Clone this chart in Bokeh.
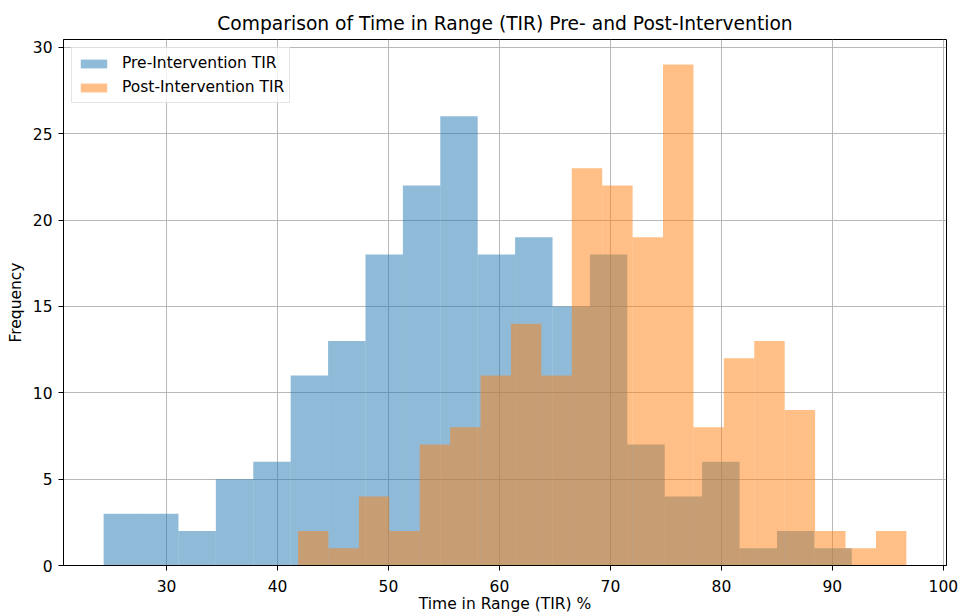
import numpy as np
from bokeh.plotting import figure
from bokeh.models import ColumnDataSource, Range1d, FixedTicker, Legend, LegendItem
from bokeh.embed import file_html
from bokeh.resources import INLINE

# ---- data ----
pre_counts = [3, 3, 2, 5, 6, 11, 13, 18, 22, 26, 18, 19, 15, 18, 7, 4, 6, 1, 2, 1]
post_counts = [2, 1, 4, 2, 7, 8, 11, 14, 11, 23, 22, 19, 29, 8, 12, 13, 9, 2, 1, 2]
pre_range = [24.33, 91.75]   # min / max of the pre-intervention TIR values
post_range = [41.85, 96.67]  # min / max of the post-intervention TIR values
x_ticks = [30, 40, 50, 60, 70, 80, 90, 100]
y_ticks = [0, 5, 10, 15, 20, 25, 30]
series_labels = ["Pre-Intervention TIR", "Post-Intervention TIR"]

FONT = "DejaVu Sans"
FS = "15.5px"


def hist_source(counts, rng):
    edges = np.linspace(rng[0], rng[1], len(counts) + 1)
    return ColumnDataSource(dict(left=edges[:-1], right=edges[1:],
                                 top=counts, bottom=[0] * len(counts)))


pre_src = hist_source(pre_counts, pre_range)
post_src = hist_source(post_counts, post_range)

lo = min(pre_range[0], post_range[0])
hi = max(pre_range[1], post_range[1])
pad = 0.05 * (hi - lo)

p = figure(width=958, height=615, output_backend="svg", toolbar_location=None,
           x_range=Range1d(lo - pad, hi + pad),
           y_range=Range1d(0, max(max(pre_counts), max(post_counts)) * 1.05),
           min_border_left=63, min_border_right=12, min_border_top=39, min_border_bottom=50)

p.title.text = "Comparison of Time in Range (TIR) Pre- and Post-Intervention"
p.title.align = "center"
p.title.text_font = FONT
p.title.text_font_size = "18.7px"
p.title.text_font_style = "normal"
p.title.text_color = "black"
p.title.standoff = 12

r_pre = p.quad(left="left", right="right", top="top", bottom="bottom", source=pre_src,
               fill_color="#1f77b4", fill_alpha=0.5, line_color=None)
r_post = p.quad(left="left", right="right", top="top", bottom="bottom", source=post_src,
                fill_color="#ff7f0e", fill_alpha=0.5, line_color=None)

p.xaxis.ticker = FixedTicker(ticks=x_ticks)
p.yaxis.ticker = FixedTicker(ticks=y_ticks)
p.xaxis.axis_label = "Time in Range (TIR) %"
p.yaxis.axis_label = "Frequency"
for ax in (p.xaxis, p.yaxis):
    ax.axis_label_text_font = FONT
    ax.axis_label_text_font_size = FS
    ax.axis_label_text_font_style = "normal"
    ax.axis_label_text_color = "black"
    ax.major_label_text_font = FONT
    ax.major_label_text_font_size = FS
    ax.major_label_text_color = "black"
    ax.major_tick_in = 0
    ax.major_tick_out = 5
    ax.minor_tick_in = 0
    ax.minor_tick_out = 0
    ax.axis_line_color = "black"
    ax.axis_line_width = 1
    ax.major_tick_line_color = "black"
p.xaxis.major_label_standoff = 9
p.xaxis.axis_label_standoff = 0
p.yaxis.major_label_standoff = 6
p.yaxis.axis_label_standoff = 5

p.grid.grid_line_color = "#b0b0b0"
p.grid.grid_line_width = 0.9
p.outline_line_color = "black"
p.outline_line_width = 1
p.outline_line_alpha = 1

legend = Legend(items=[LegendItem(label=series_labels[0], renderers=[r_pre]),
                       LegendItem(label=series_labels[1], renderers=[r_post])],
                location="top_left")
legend.label_text_font = FONT
legend.label_text_font_size = FS
legend.label_text_color = "black"
legend.glyph_width = 33
legend.glyph_height = 11
legend.label_height = 20
legend.label_standoff = 12
legend.spacing = 4
legend.padding = 5
legend.margin = 8
legend.border_line_color = "#cccccc"
legend.border_line_width = 1
legend.background_fill_alpha = 0.8
p.add_layout(legend)

open("out.html", "w").write(file_html(p, INLINE))
